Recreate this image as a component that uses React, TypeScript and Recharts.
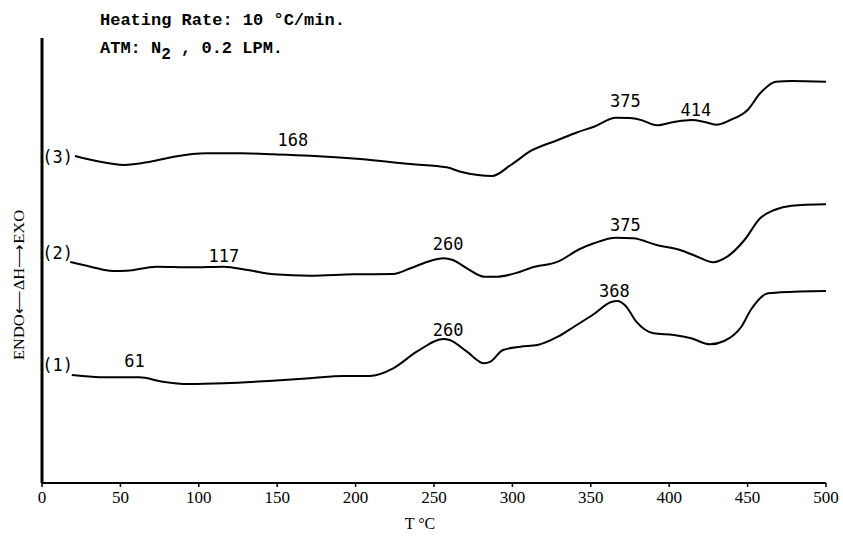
import { LineChart, Line, XAxis, YAxis, ReferenceDot, ReferenceLine } from "recharts";

// DTA curves, temperature (°C) vs ΔH in arbitrary units (plot height)
const temps1 = [19, 41, 62, 77, 93, 116, 147, 171, 192, 209, 224, 239, 256, 260, 271, 282, 286, 294, 305, 316, 329, 340, 352, 363, 367, 372, 379, 390, 403, 414, 426, 435, 446, 452, 463, 471, 500];
const dh1 = [108, 105.7, 105.7, 101.3, 99, 99.7, 102.3, 104.7, 107, 107, 114.7, 131.3, 144, 143, 131.3, 119.7, 121.3, 133, 136.3, 138, 146.3, 157, 169, 181, 182, 177.5, 161.3, 149.7, 148, 144.7, 138.7, 142, 156.3, 173, 189.7, 190.7, 192];

const temps2 = [18, 31, 45, 54, 73, 95, 116, 131, 148, 171, 199, 224, 235, 246, 256, 262, 271, 282, 290, 303, 312, 329, 343, 352, 366, 377, 392, 407, 418, 428, 437, 448, 458, 467, 478, 500];
const dh2 = [221, 216.3, 212, 212.3, 216.3, 215.7, 216.3, 213, 208.7, 207.3, 208.7, 209, 214.7, 221.3, 224.7, 223, 214.7, 206.3, 206.3, 210.3, 215.3, 221.3, 234, 239.7, 245.3, 244.7, 238, 233, 226.3, 220.7, 226.3, 243, 264.7, 273, 277.3, 278.7];

const temps3 = [21, 37, 52, 69, 84, 105, 126, 148, 171, 203, 235, 258, 267, 278, 287, 299, 312, 329, 341, 352, 366, 375, 382, 392, 403, 414, 422, 430, 439, 450, 458, 468, 478, 500];
const dh3 = [327, 321.3, 318, 321.3, 326.3, 329.7, 329.7, 328.7, 327.3, 324, 319, 315.7, 311.3, 308, 307, 318, 332.3, 343, 350.5, 356.3, 365.3, 365, 363, 357.7, 361, 363, 361.3, 358.3, 363, 373, 389.7, 401.3, 402, 401.3];

const xTicks = [0, 50, 100, 150, 200, 250, 300, 350, 400, 450, 500];

// annotations: text, temperature, level
const noteTexts = ["(3)", "(2)", "(1)", "168", "375", "414", "117", "260", "375", "61", "260", "368"];
const noteT = [10, 10, 10, 160, 372, 417, 116, 259, 372, 59, 259, 365];
const noteV = [326, 230, 118, 343, 382, 373, 227, 239, 258, 122, 153, 192];

const toRows = (ts: number[], vs: number[]) => ts.map((T, i) => ({ T, v: vs[i] }));

const curve1 = toRows(temps1, dh1);
const curve2 = toRows(temps2, dh2);
const curve3 = toRows(temps3, dh3);

const monoFont = "'DejaVu Sans Mono', monospace";
const serifFont = "'Liberation Serif', serif";

export default function App() {
  return (
    <div style={{ position: "absolute", left: 0, top: 0, width: 843, height: 536, background: "#fff" }}>
      <LineChart
        width={843}
        height={536}
        margin={{ top: 38, right: 17, left: 42, bottom: 23 }}
      >
        <XAxis
          type="number"
          dataKey="T"
          domain={[0, 500]}
          ticks={xTicks}
          height={30}
          tickSize={4}
          tickMargin={4}
          axisLine={{ stroke: "#000", strokeWidth: 2 }}
          tickLine={{ stroke: "#000", strokeWidth: 1.5 }}
          tick={{ fill: "#000", fontSize: 17, fontFamily: serifFont }}
          allowDataOverflow
        />
        <YAxis type="number" domain={[0, 445]} width={0} hide allowDataOverflow />
        <ReferenceLine x={0} stroke="#000" strokeWidth={3} />
        <Line data={curve1} dataKey="v" type="monotone" stroke="#000" strokeWidth={2} dot={false} isAnimationActive={false} />
        <Line data={curve2} dataKey="v" type="monotone" stroke="#000" strokeWidth={2} dot={false} isAnimationActive={false} />
        <Line data={curve3} dataKey="v" type="monotone" stroke="#000" strokeWidth={2} dot={false} isAnimationActive={false} />
        {noteTexts.map((t, i) => (
          <ReferenceDot
            key={i}
            x={noteT[i]}
            y={noteV[i]}
            r={1}
            fill="none"
            stroke="none"
            label={{ value: t, position: "center", fill: "#000", fontSize: 17, fontFamily: monoFont }}
          />
        ))}
      </LineChart>
      <svg width={843} height={536} style={{ position: "absolute", left: 0, top: 0, pointerEvents: "none" }}>
        <text x={100} y={25} fontFamily="'Liberation Mono', monospace" fontWeight="bold" fontSize={17} fill="#000">
          Heating Rate: 10 °C/min.
        </text>
        <text x={100} y={53} fontFamily="'Liberation Mono', monospace" fontWeight="bold" fontSize={17} fill="#000">
          ATM: N<tspan dy={6} fontSize={16}>2</tspan><tspan dy={-6}> , 0.2 LPM.</tspan>
        </text>
        <text
          x={0}
          y={0}
          transform="translate(24,285) rotate(-90)"
          textAnchor="middle"
          fontFamily={serifFont}
          fontSize={15}
          textLength={150}
          lengthAdjust="spacingAndGlyphs"
          fill="#000"
        >
          ENDO⟵ΔH⟶EXO
        </text>
        <text x={420} y={529} textAnchor="middle" fontFamily={serifFont} fontSize={16} fill="#000">
          T °C
        </text>
      </svg>
    </div>
  );
}
